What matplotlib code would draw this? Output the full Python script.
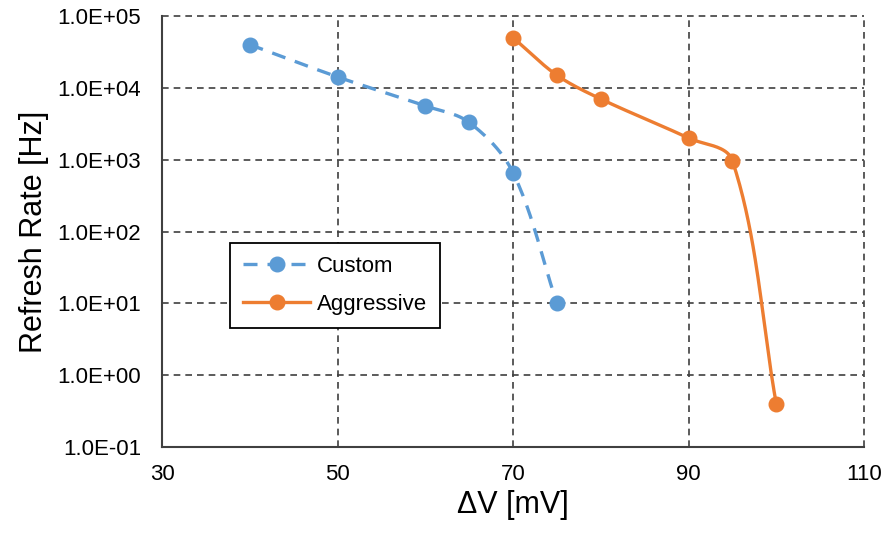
import numpy as np
import matplotlib
matplotlib.use("Agg")
import matplotlib.pyplot as plt
from matplotlib.ticker import FixedLocator, FuncFormatter

plt.rcParams['font.family'] = ['Liberation Sans', 'DejaVu Sans']

# Measured refresh rates versus sense margin
custom_dv = [40, 50, 60, 65, 70, 75]
custom_rate = [4.0e4, 1.42e4, 5.6e3, 3.3e3, 6.6e2, 1.0e1]
aggr_dv = [70, 75, 80, 90, 95, 100]
aggr_rate = [5.0e4, 1.5e4, 7.0e3, 2.0e3, 9.7e2, 4.0e-1]

x_ticks = [30, 50, 70, 90, 110]
y_ticks = [1e-1, 1e0, 1e1, 1e2, 1e3, 1e4, 1e5]

BLUE = '#5B9BD5'
ORANGE = '#ED7D31'
GRID = '#404040'
LW = 2.4

fig = plt.figure(figsize=(8.86, 5.34), dpi=100)
ax = fig.add_axes([162 / 886, 87 / 534, 702 / 886, 431 / 534])
ax.set_xlim(30, 110)
ax.set_yscale('log')
ax.set_ylim(1e-1, 1e5)


def smooth(xs, ys, n=40):
    """Smoothed Bezier path through the points, built in display space."""
    pts = ax.transData.transform(np.column_stack([xs, ys]))
    out = [pts[0]]
    m = len(pts)
    for i in range(m - 1):
        p0 = pts[max(i - 1, 0)]
        p1 = pts[i]
        p2 = pts[i + 1]
        p3 = pts[min(i + 2, m - 1)]
        chord = np.linalg.norm(p2 - p1) / 3.0
        d1 = p2 - p0
        d1 = d1 / np.linalg.norm(d1)
        d2 = p3 - p1
        d2 = d2 / np.linalg.norm(d2)
        c1 = p1 + d1 * chord
        c2 = p2 - d2 * chord
        t = np.linspace(0, 1, n)[1:, None]
        seg = ((1 - t) ** 3) * p1 + 3 * ((1 - t) ** 2) * t * c1 \
            + 3 * (1 - t) * t ** 2 * c2 + t ** 3 * p2
        out.extend(seg)
    out = np.array(out)
    data = ax.transData.inverted().transform(out)
    return data[:, 0], data[:, 1]


DASH = (0, (4.2, 3.0))

cx, cy = smooth(custom_dv, custom_rate)
ax.plot(cx, cy, color=BLUE, lw=LW, linestyle=DASH, zorder=3)
ax.plot(custom_dv, custom_rate, linestyle='none', marker='o', ms=10.5,
        color=BLUE, zorder=4)

axx, axy = smooth(aggr_dv, aggr_rate)
ax.plot(axx, axy, color=ORANGE, lw=LW, zorder=3)
ax.plot(aggr_dv, aggr_rate, linestyle='none', marker='o', ms=10.5,
        color=ORANGE, zorder=4)

# Legend handles
h1, = ax.plot([], [], color=BLUE, lw=LW, linestyle=DASH,
              marker='o', ms=10.5, label='Custom')
h2, = ax.plot([], [], color=ORANGE, lw=LW, marker='o', ms=10.5,
              label='Aggressive')
leg = ax.legend(handles=[h1, h2], loc='lower left',
                bbox_to_anchor=(0.097, 0.276), borderaxespad=0,
                fontsize=16, handlelength=3.0, handletextpad=0.3,
                borderpad=0.6, labelspacing=0.75, fancybox=False,
                framealpha=1, edgecolor='black')
leg.get_frame().set_linewidth(1.3)

ax.xaxis.set_major_locator(FixedLocator(x_ticks))
ax.yaxis.set_major_locator(FixedLocator(y_ticks))
ax.yaxis.set_minor_locator(FixedLocator([]))
ax.yaxis.set_major_formatter(FuncFormatter(lambda v, p: '{:.1E}'.format(v)))
ax.tick_params(axis='both', length=0, labelsize=16, colors='black')
ax.tick_params(axis='y', pad=15)
ax.tick_params(axis='x', pad=12)

ax.grid(True, which='major', linestyle=(0, (4, 3)), color=GRID, lw=1.2)
for gl in ax.get_xgridlines() + ax.get_ygridlines():
    gl.set_clip_on(False)
ax.set_axisbelow(True)

for s in ['top', 'right']:
    ax.spines[s].set_visible(False)
for s in ['left', 'bottom']:
    ax.spines[s].set_color(GRID)
    ax.spines[s].set_linewidth(1.5)
    ax.spines[s].set_zorder(5)

ax.set_xlabel('ΔV [mV]', fontsize=22, labelpad=4)
ax.set_ylabel('Refresh Rate [Hz]', fontsize=22, labelpad=6)

fig.savefig('out.png', dpi=100)
